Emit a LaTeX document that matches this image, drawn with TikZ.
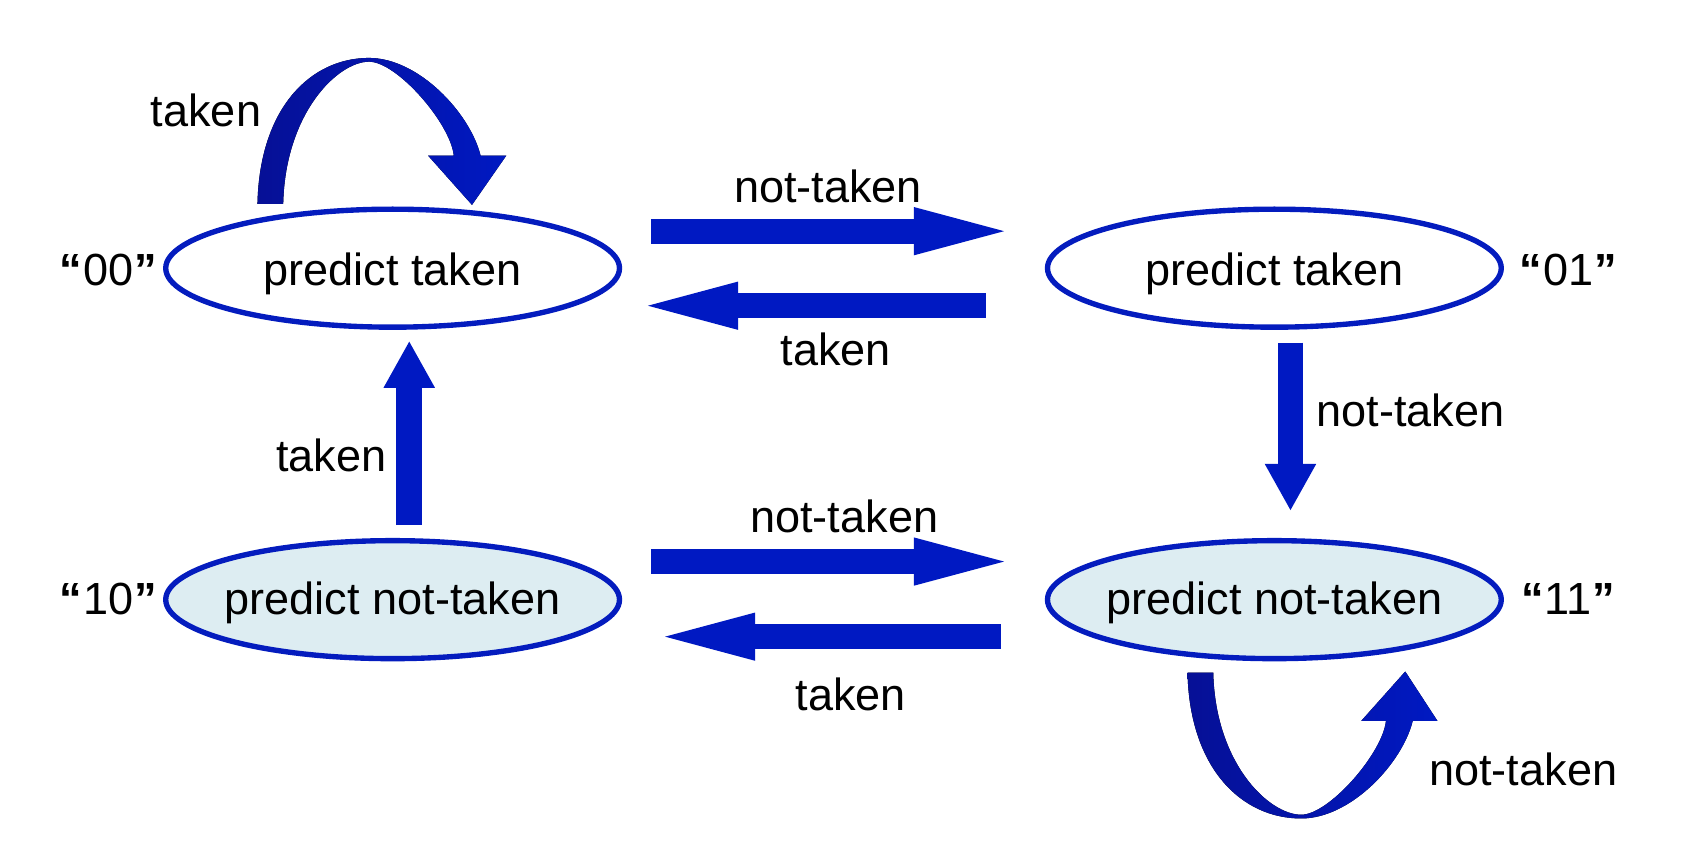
\documentclass[tikz,border=0pt]{standalone}
\usepackage{fontspec}
\setmainfont{Liberation Sans}
\usetikzlibrary{arrows.meta,shapes.geometric}
\definecolor{arrowblue}{RGB}{0,25,194}
\definecolor{edgeblue}{RGB}{4,28,190}
\definecolor{loopdark}{RGB}{6,16,150}
\definecolor{statefill}{RGB}{221,237,242}
\begin{document}
\begin{tikzpicture}[x=1pt,y=-1pt,
  state/.style={ellipse, draw=edgeblue, line width=5pt, minimum width=423pt, minimum height=110pt, inner sep=0pt},
  lbl/.style={font=\fontsize{42}{48}\selectfont, anchor=base, inner sep=0pt},
  qlbl/.style={lbl},
  harrow/.style={draw=arrowblue, line width=23pt, -{Triangle[length=84pt,width=45pt,line width=0pt]}},
  varrow/.style={draw=arrowblue, line width=24pt, -{Triangle[length=43pt,width=48pt,line width=0pt]}},
  loopshape/.style={left color=loopdark, middle color=arrowblue, right color=arrowblue, draw=none}]
\useasboundingbox (0,0) rectangle (1568,792);

% states
\node[state] (s00) at (366,250) {};
\node[state] (s01) at (1188,250) {};
\node[state, fill=statefill] (s10) at (366,559) {};
\node[state, fill=statefill] (s11) at (1188,559) {};

\node[lbl] (t00) at (366,266) {predict taken};
\node[lbl] (t01) at (1188,266) {predict taken};
\node[lbl] (t10) at (366,573) {predict not-taken};
\node[lbl] (t11) at (1188,573) {predict not-taken};

\node[qlbl] (q00) at (101,266.6) {\textbf{“}\kern1pt00\kern1pt\textbf{”}};
\node[qlbl] (q01) at (1462,266.6) {\textbf{“}\kern1pt01\kern1pt\textbf{”}};
\node[qlbl] (q10) at (101,573) {\textbf{“}\kern1pt10\kern1pt\textbf{”}};
\node[qlbl] (q11) at (1462,573) {\textbf{“}\kern1pt11\kern1pt\textbf{”}};

% horizontal arrows
\draw[harrow, shorten <=27pt, shorten >=38pt] ([yshift=34.5pt]s00.east) -- ([yshift=34.5pt]s01.west);
\draw[harrow, shorten <=55pt, shorten >=24pt] ([yshift=-35pt]s01.west) -- ([yshift=-35pt]s00.east);
\draw[harrow, shorten <=27pt, shorten >=38pt] ([yshift=35.5pt]s10.east) -- ([yshift=35.5pt]s11.west);
\draw[harrow, shorten <=41pt, shorten >=40pt] ([yshift=-34.5pt]s11.west) -- ([yshift=-34.5pt]s10.east);

% vertical arrows
\draw[varrow, shorten <=12pt, shorten >=11pt] ([xshift=15.5pt]s10.north) -- ([xshift=15.5pt]s00.south);
\draw[varrow, shorten <=12pt, shorten >=26pt] ([xshift=15pt]s01.south) -- ([xshift=15pt]s11.north);

% self loops
\begin{scope}[shift={(s00.center)}, shift={(-22,-60)}]
\fill[loopshape] (-104,0) .. controls (-102,-90) and (-54,-136) .. (0,-136)
  .. controls (46,-136) and (94,-85) .. (104,-45) -- (128,-45) -- (96,1) -- (55,-45) -- (79,-45)
  .. controls (76,-75) and (26,-132.5) .. (0,-132.5)
  .. controls (-29,-132.5) and (-78,-85) .. (-80,0) -- cycle;
\end{scope}
\begin{scope}[shift={(s11.center)}, shift={(25,68)}, yscale=-1]
\fill[loopshape] (-106,0) .. controls (-104,-90) and (-55,-136) .. (0,-136)
  .. controls (46,-136) and (94,-85) .. (104,-45) -- (127,-45) -- (97,1) -- (56,-45) -- (79,-45)
  .. controls (76,-75) and (26,-132.5) .. (0,-132.5)
  .. controls (-30,-132.5) and (-80,-85) .. (-82,0) -- cycle;
\end{scope}

% edge labels
\node[lbl] (l1) at (192,118) {taken};
\node[lbl] (l2) at (772,188.6) {not-taken};
\node[lbl] (l3) at (779,341) {taken};
\node[lbl] (l4) at (1315,397.7) {not-taken};
\node[lbl] (l5) at (309,439.6) {taken};
\node[lbl] (l6) at (787,496) {not-taken};
\node[lbl] (l7) at (793,662.7) {taken};
\node[lbl] (l8) at (1420,732.6) {not-taken};
\end{tikzpicture}
\end{document}
